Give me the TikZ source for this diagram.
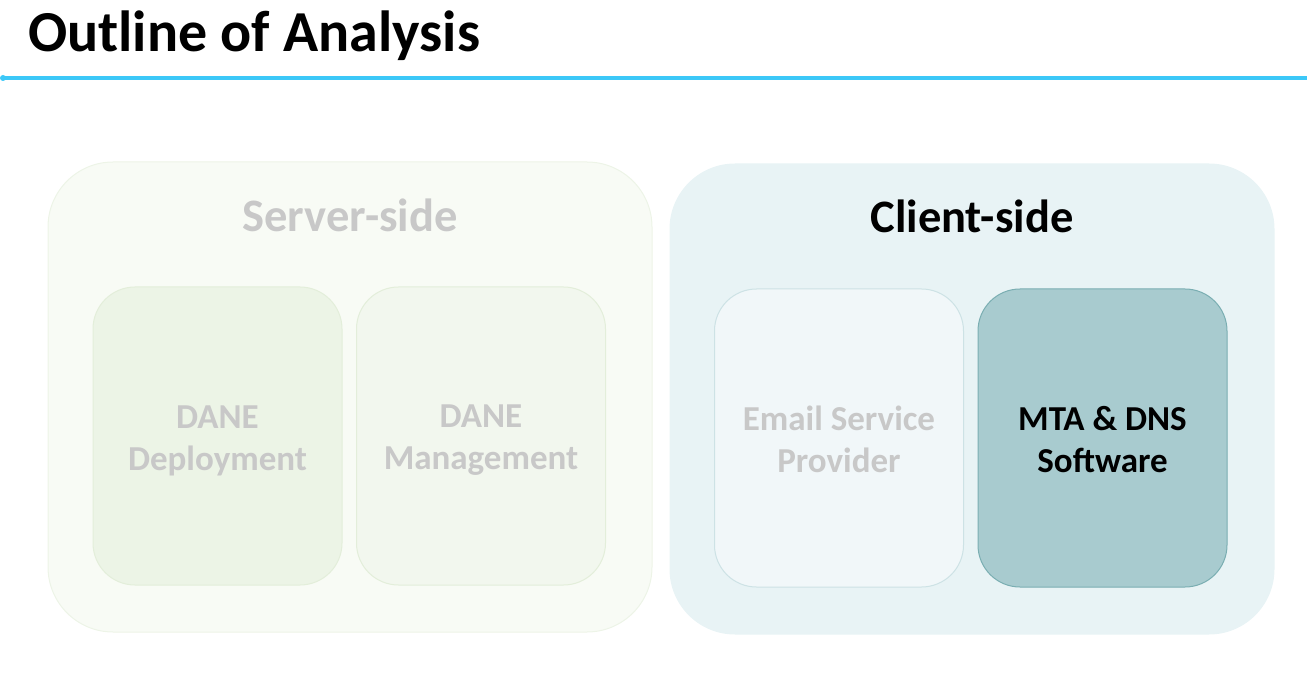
\documentclass[tikz,border=0pt]{standalone}
\usepackage{fontspec}
\setmainfont{Carlito}
\usepackage{tikz}
\usetikzlibrary{positioning}

\definecolor{rule}{HTML}{3CC8F8}
\definecolor{srvfill}{HTML}{F8FBF5}
\definecolor{srvline}{HTML}{EDF4E7}
\definecolor{depfill}{HTML}{ECF4E6}
\definecolor{mgmfill}{HTML}{F2F7EE}
\definecolor{srvinline}{HTML}{E3EEDA}
\definecolor{greytext}{HTML}{C8C8C8}
\definecolor{clifill}{HTML}{E8F3F5}
\definecolor{espfill}{HTML}{F1F7F9}
\definecolor{espline}{HTML}{CDE2E5}
\definecolor{mtafill}{HTML}{A8CBCF}
\definecolor{mtaline}{HTML}{7AAEB2}

\tikzset{
    outerbox/.style={rectangle, rounded corners=65pt, minimum width=604pt, minimum height=470pt, line width=1pt},
    innerbox/.style={rectangle, rounded corners=42pt, minimum width=249pt, minimum height=298pt, line width=1pt},
    boxtext/.style={align=center, yshift=-4.5pt, font=\fontsize{35}{42}\selectfont\bfseries},
    sidelabel/.style={font=\fontsize{46.5}{52}\selectfont\bfseries}
}

\begin{document}
\begin{tikzpicture}[x=1pt, y=-1pt]
    \useasboundingbox (0,0) rectangle (1307,676);
    % title and rule
    \node[anchor=base west, inner sep=0pt, font=\fontsize{58}{64}\selectfont\bfseries] (title) at (28,52) {Outline of Analysis};
    \coordinate (ruleL) at (3,78);
    \coordinate (ruleR) at (1307,78);
    \draw[rule, line width=3.5pt] (ruleL) -- (ruleR);
    \fill[rule] (ruleL) circle (3pt);
    % server side
    \node[outerbox, draw=srvline, fill=srvfill] (server) at (350,397) {};
    \node[sidelabel, text=greytext] (serverlbl) at (350,215) {Server-side};
    \node[innerbox, draw=srvinline, fill=depfill] (deploy) at (217.5,436) {};
    \node[innerbox, draw=srvinline, fill=mgmfill] (manage) at (481,436) {};
    \node[boxtext, text=greytext] (deploytxt) at (deploy.center) {DANE\\Deployment};
    \node[boxtext, text=greytext] (managetxt) at (manage.center) {DANE\\Management};
    % client side
    \node[outerbox, draw=clifill, fill=clifill] (client) at (972,399) {};
    \node[sidelabel, text=black] (clientlbl) at (972,216) {Client-side};
    \node[innerbox, draw=espline, fill=espfill] (esp) at (839,438) {};
    \node[innerbox, draw=mtaline, fill=mtafill] (mta) at (1102.5,438) {};
    \node[boxtext, text=greytext] (esptxt) at (esp.center) {Email Service\\Provider\vphantom{g}};
    \node[boxtext, text=black] (mtatxt) at (mta.center) {MTA \& DNS\\Software\vphantom{g}};
\end{tikzpicture}
\end{document}
